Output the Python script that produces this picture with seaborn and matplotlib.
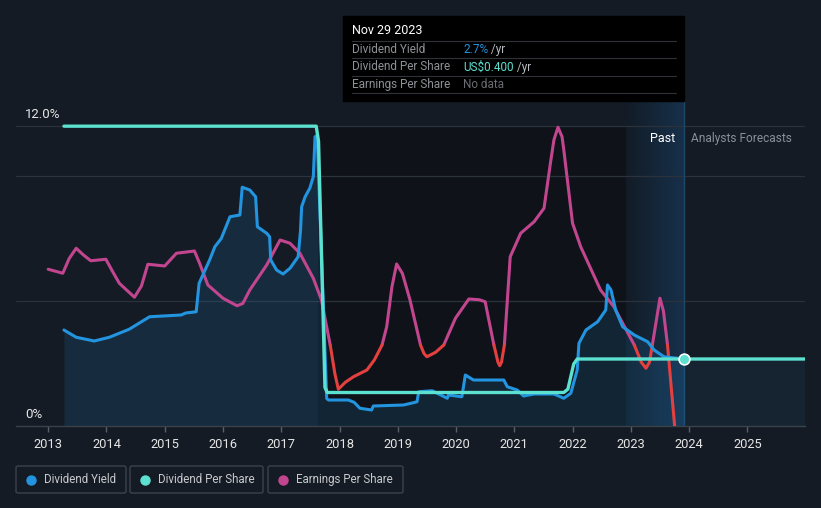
import numpy as np
import pandas as pd
import matplotlib.pyplot as plt
import seaborn as sns
from matplotlib.colors import LinearSegmentedColormap
from matplotlib.patches import Rectangle, FancyBboxPatch
plt.switch_backend("Agg")

# dividend yield, %
yield_year = [2013.27, 2013.48, 2013.79, 2014.05, 2014.39, 2014.74, 2015.28, 2015.36, 2015.54, 2015.59,
              2015.77, 2015.86, 2015.97, 2016.12, 2016.29, 2016.33, 2016.46, 2016.56, 2016.59, 2016.75,
              2016.80, 2016.82, 2016.92, 2017.03, 2017.15, 2017.29, 2017.33, 2017.35, 2017.41, 2017.49,
              2017.55, 2017.58, 2017.60, 2017.62, 2017.78, 2017.81, 2018.15, 2018.25, 2018.35, 2018.55,
              2018.58, 2019.10, 2019.30, 2019.33, 2019.36, 2019.59, 2019.85, 2019.87, 2020.10, 2020.16,
              2020.30, 2020.82, 2020.88, 2021.05, 2021.16, 2021.34, 2021.68, 2021.85, 2021.97, 2022.08,
              2022.11, 2022.23, 2022.43, 2022.57, 2022.60, 2022.66, 2022.74, 2022.86, 2023.06, 2023.29,
              2023.40, 2023.57, 2023.91]
yield_pct = [3.84, 3.55, 3.40, 3.55, 3.87, 4.37, 4.44, 4.52, 4.57, 5.71,
             6.64, 7.17, 7.50, 8.37, 8.44, 9.55, 9.44, 9.17, 7.97, 7.71,
             7.57, 6.64, 6.24, 6.08, 6.31, 6.77, 7.80, 8.77, 9.17, 9.51,
             9.97, 11.57, 11.60, 11.40, 1.10, 1.04, 1.04, 0.95, 0.71, 0.64,
             0.80, 0.84, 0.95, 0.97, 1.37, 1.41, 1.11, 1.24, 1.17, 2.04,
             1.84, 1.84, 1.57, 1.44, 1.20, 1.28, 1.28, 1.11, 1.31, 2.24,
             3.31, 3.84, 4.17, 4.64, 5.64, 5.44, 4.64, 3.97, 3.64, 3.37,
             3.04, 2.77, 2.68]

# dividend per share, US$
dps_year = [2013.27, 2017.60, 2017.64, 2017.75, 2017.79, 2021.85, 2021.92, 2022.02, 2022.08, 2025.99]
dps_usd = [1.79, 1.79, 1.70, 0.23, 0.20, 0.20, 0.22, 0.37, 0.40, 0.40]

# earnings per share, in chart position units (red below eps_low)
eps_year = [2013.00, 2013.25, 2013.36, 2013.48, 2013.60, 2013.73, 2013.99, 2014.10, 2014.22, 2014.48,
            2014.60, 2014.71, 2015.00, 2015.20, 2015.51, 2015.60, 2015.74, 2016.00, 2016.24, 2016.34,
            2016.46, 2016.75, 2016.98, 2017.15, 2017.32, 2017.55, 2017.69, 2017.84, 2017.92, 2017.98,
            2018.10, 2018.24, 2018.47, 2018.60, 2018.73, 2018.81, 2018.90, 2018.98, 2019.08, 2019.21,
            2019.39, 2019.45, 2019.50, 2019.65, 2019.79, 2019.99, 2020.22, 2020.40, 2020.50, 2020.65,
            2020.72, 2020.75, 2020.78, 2020.83, 2020.93, 2021.11, 2021.34, 2021.51, 2021.62, 2021.68,
            2021.75, 2021.82, 2021.85, 2022.00, 2022.14, 2022.48, 2022.71, 2023.06, 2023.18, 2023.26,
            2023.32, 2023.37, 2023.50, 2023.56, 2023.63, 2023.76]
eps_val = [6.27, 6.11, 6.70, 7.11, 6.85, 6.61, 6.67, 6.20, 5.71, 5.15,
           5.60, 6.47, 6.40, 6.91, 7.00, 6.50, 5.64, 5.11, 4.81, 4.90,
           5.44, 6.44, 7.44, 7.31, 6.91, 5.91, 5.04, 3.24, 2.10, 1.47,
           1.75, 1.97, 2.24, 2.65, 3.24, 3.97, 5.57, 6.48, 6.10, 5.04,
           3.24, 2.90, 2.77, 2.95, 3.24, 4.31, 5.08, 5.05, 4.97, 3.24,
           2.55, 2.41, 2.55, 3.24, 6.77, 7.71, 8.17, 8.71, 10.51, 11.44,
           11.95, 11.57, 11.04, 8.11, 7.17, 5.44, 4.77, 3.24, 2.55, 2.31,
           2.55, 3.24, 5.11, 4.60, 3.24, -0.20]
eps_low = 3.24

year_ticks = list(range(2013, 2026))
now_year = 2023.91
past_start = 2022.92
dark_start = 2017.63

BG = "#151b24"
C_YIELD = "#2394df"
C_DPS = "#5ce0cf"
C_EPS = "#c2468f"
C_EPS_LOW = "#e3403f"

sns.set_theme(style="dark", rc={"axes.facecolor": BG, "figure.facecolor": BG})
plt.rcParams["font.family"] = ["Roboto", "DejaVu Sans"]

ymax = 13.04
dps_per_pct = 6.7  # chart % per US$

fig = plt.figure(figsize=(8.21, 5.08), dpi=100)
ax = fig.add_axes([16 / 821, 82 / 508, 789 / 821, 326 / 508])
ax.set_xlim(2012.447, 2025.99)
ax.set_ylim(0, ymax)

# backgrounds
ax.add_patch(Rectangle((dark_start, 0), past_start - dark_start, 12, color="#0f1319", zorder=0, lw=0))
grad = np.linspace(0, 1, 100).reshape(1, -1)
cmap = LinearSegmentedColormap.from_list("past", ["#121c27", "#17304a"])
ax.imshow(grad, extent=[past_start, now_year, 0, ymax], aspect="auto", cmap=cmap, zorder=0.5)

for g in [5, 10, 12]:
    ax.axhline(g, color="#2c323b", lw=0.9, zorder=1)
ax.axvline(now_year, color="#1f4868", lw=1, zorder=1)

df_y = pd.DataFrame({"year": yield_year, "pct": yield_pct})
ax.fill_between(df_y["year"], df_y["pct"], 0, color=C_YIELD, alpha=0.14, lw=0, zorder=2)
sns.lineplot(data=df_y, x="year", y="pct", ax=ax, color=C_YIELD, lw=2.2, zorder=4,
             solid_joinstyle="round", solid_capstyle="round")

# earnings per share, split into normal / low segments
eps = np.array(eps_val)
eps_hi = np.where(eps >= eps_low, eps, np.nan)
eps_lo = np.where(eps <= eps_low, eps, np.nan)
ax.plot(eps_year, eps_hi, color=C_EPS, lw=2.2, zorder=3, solid_capstyle="round", solid_joinstyle="round")
ax.plot(eps_year, eps_lo, color=C_EPS_LOW, lw=2.2, zorder=3, solid_capstyle="round", solid_joinstyle="round")

# dividend per share on its own scale
ax2 = ax.twinx()
ax2.set_ylim(0, ymax / dps_per_pct)
df_d = pd.DataFrame({"year": dps_year, "usd": dps_usd})
ax2.fill_between([now_year, 2025.99], 0.40, 0, color=C_YIELD, alpha=0.08, lw=0, zorder=1)
sns.lineplot(data=df_d, x="year", y="usd", ax=ax2, color=C_DPS, lw=2.4, zorder=5,
             solid_joinstyle="round")
ax2.scatter([now_year], [0.40], s=60, color=C_DPS, edgecolor="white", linewidth=1.2, zorder=6)
ax2.set_yticks([])
ax2.set_ylabel("")
for s in ax2.spines.values():
    s.set_visible(False)

ax.set_xticks(year_ticks)
ax.set_xticklabels([str(y) for y in year_ticks])
ax.set_yticks([])
ax.set_xlabel("")
ax.set_ylabel("")
ax.tick_params(axis="x", colors="#5a606a", labelcolor="#e6e6e6", labelsize=9.3, length=4, width=1,
               direction="out", bottom=True, pad=5)
for s in ["top", "right", "left"]:
    ax.spines[s].set_visible(False)
ax.spines["bottom"].set_color("#3b4049")
ax.spines["bottom"].set_linewidth(1)

ax.text(2012.6, 12.2, "12.0%", color="#e6e6e6", fontsize=9.5, va="bottom", ha="left")
ax.text(2012.6, 0.2, "0%", color="#e6e6e6", fontsize=9.5, va="bottom", ha="left")
ax.text(now_year - 0.15, 11.5, "Past", color="#ffffff", fontsize=9, ha="right", va="center")
ax.text(now_year + 0.12, 11.5, "Analysts Forecasts", color="#8a9099", fontsize=8.6, ha="left", va="center")

# tooltip
W, H = 821, 508
fig.patches.append(Rectangle((343 / W, 1 - 101 / H), 341 / W, 85 / H, transform=fig.transFigure,
                             color="#000000", zorder=10))
fig.text(352 / W, 1 - 31 / H, "Nov 29 2023", color="white", fontsize=9, va="center", zorder=11)
for yy in [41, 58, 76, 93]:
    fig.add_artist(plt.Line2D([352 / W, 676 / W], [1 - yy / H, 1 - yy / H], color="#2f3238", lw=0.8, zorder=11))
rows = [("Dividend Yield", "2.7%", C_YIELD, " /yr"),
        ("Dividend Per Share", "US$0.400", C_DPS, " /yr"),
        ("Earnings Per Share", "No data", "#6a6d72", "")]
for i, (lab, val, col, unit) in enumerate(rows):
    yy = 1 - (49.5 + i * 17.5) / H
    fig.text(352 / W, yy, lab, color="#8e9196", fontsize=8.5, va="center", zorder=11)
    t = fig.text(463 / W, yy, val, color=col, fontsize=8.5, va="center", zorder=11)
    if unit:
        fig.canvas.draw()
        bb = t.get_window_extent()
        fig.text(bb.x1 / W, yy, unit, color="#b8bbbf", fontsize=8.5, va="center", zorder=11)

# legend boxes
legend = [("Dividend Yield", C_YIELD, 16, 126), ("Dividend Per Share", C_DPS, 130, 263),
          ("Earnings Per Share", C_EPS, 268, 403)]
for lab, col, x0, x1 in legend:
    fig.patches.append(FancyBboxPatch((x0 / W, 1 - 493 / H), (x1 - x0) / W, 27 / H,
                                      boxstyle="round,pad=0,rounding_size=0.003", transform=fig.transFigure,
                                      facecolor=BG, edgecolor="#3d424b", lw=1))
    fig.add_artist(plt.Line2D([(x0 + 15) / W], [1 - 479.5 / H], marker="o", markersize=6.5, color=col, lw=0))
    fig.text((x0 + 28) / W, 1 - 479.5 / H, lab, color="#c8cacd", fontsize=8.3, va="center")

fig.savefig("out.png", dpi=100, facecolor=BG)
